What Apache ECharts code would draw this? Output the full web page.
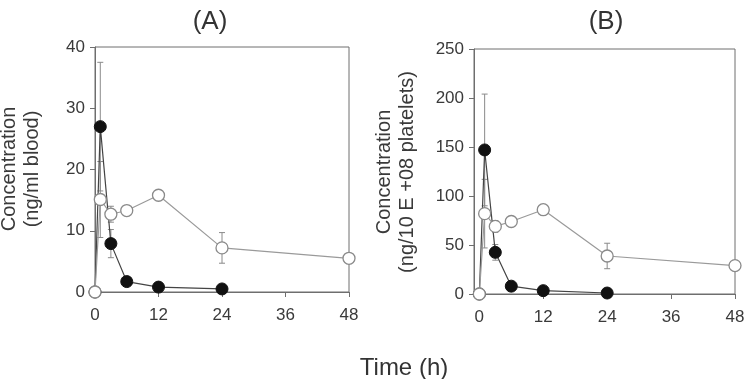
<!DOCTYPE html>
<html>
<head>
<meta charset="utf-8">
<script src="https://cdn.jsdelivr.net/npm/echarts@6/dist/echarts.min.js"></script>
<style>html,body{margin:0;padding:0;background:#fff}#c{width:751px;height:379px}</style>
</head>
<body>
<div id="c"></div>
<script>
// ---- data ----
var xTicks = [0, 12, 24, 36, 48];
var timeFilled = [0, 1, 3, 6, 12, 24];
var timeOpen = [0, 1, 3, 6, 12, 24, 48];
// Panel A: ng/ml blood
var filledA = [0, 27.0, 7.9, 1.7, 0.8, 0.5];
var filledA_sd = [0, 10.5, 2.3, 0, 0, 0];
var openA = [0, 15.1, 12.7, 13.3, 15.8, 7.2, 5.5];
var openA_sd = [0, 6.2, 1.3, 0, 0, 2.5, 0];
// Panel B: ng/10E+08 platelets
var filledB = [0, 147, 42.5, 8, 3.4, 1];
var filledB_sd = [0, 57, 8, 0, 0, 0];
var openB = [0, 82, 69, 74, 86, 38.8, 29];
var openB_sd = [0, 35, 6, 0, 0, 13, 0];

var FONT = 'Liberation Sans, Arial, sans-serif';
var AXIS = '#6e6e6e';

function pts(t, v) { return t.map(function (x, i) { return [x, v[i]]; }); }
function errPts(t, v, s) {
  var out = [];
  t.forEach(function (x, i) { if (s[i] > 0) out.push([x, v[i] - s[i], v[i] + s[i]]); });
  return out;
}
function errSeries(idx, data) {
  return {
    type: 'custom', xAxisIndex: idx, yAxisIndex: idx, z: 1, silent: true,
    data: data,
    renderItem: function (params, api) {
      var x = api.value(0), lo = api.value(1), hi = api.value(2);
      var p1 = api.coord([x, hi]), p2 = api.coord([x, lo]);
      var w = 3;
      var st = { stroke: '#8a8a8a', lineWidth: 1 };
      return { type: 'group', children: [
        { type: 'line', shape: { x1: p1[0], y1: p1[1], x2: p2[0], y2: p2[1] }, style: st },
        { type: 'line', shape: { x1: p1[0] - w, y1: p1[1], x2: p1[0] + w, y2: p1[1] }, style: st },
        { type: 'line', shape: { x1: p2[0] - w, y1: p2[1], x2: p2[0] + w, y2: p2[1] }, style: st }
      ]};
    }
  };
}
function xAx(idx, min) {
  return {
    gridIndex: idx, type: 'value', min: min, max: 48,
    axisLine: { show: true, onZero: false, lineStyle: { color: AXIS, width: 1 } },
    axisTick: { show: true, length: 5, customValues: xTicks, lineStyle: { color: AXIS } },
    axisLabel: { customValues: xTicks, color: '#3a3a3a', fontSize: 17, fontFamily: FONT, margin: 15 },
    splitLine: { show: false }
  };
}
function yAx(idx, max, interval) {
  return {
    gridIndex: idx, type: 'value', min: 0, max: max, interval: interval,
    axisLine: { show: true, onZero: false, lineStyle: { color: AXIS, width: 1 } },
    axisTick: { show: true, length: 5, lineStyle: { color: AXIS } },
    axisLabel: { color: '#3a3a3a', fontSize: 17, fontFamily: FONT, margin: 10 },
    splitLine: { show: false }
  };
}
function filledSeries(idx, data) {
  return { type: 'line', xAxisIndex: idx, yAxisIndex: idx, data: data, z: 3,
    symbol: 'circle', symbolSize: 12, lineStyle: { color: '#444', width: 1.2 },
    itemStyle: { color: '#111', borderColor: '#111', borderWidth: 1 }, animation: false };
}
function openSeries(idx, data) {
  return { type: 'line', xAxisIndex: idx, yAxisIndex: idx, data: data, z: 4,
    symbol: 'circle', symbolSize: 12, lineStyle: { color: '#9a9a9a', width: 1.2 },
    itemStyle: { color: '#fff', borderColor: '#8a8a8a', borderWidth: 1.3 }, animation: false };
}

var chart = echarts.init(document.getElementById('c'), null, { renderer: 'canvas' });
chart.setOption({
  animation: false,
  grid: [
    { left: 95, top: 47, width: 254, height: 245, show: true, borderColor: AXIS, borderWidth: 1, backgroundColor: 'transparent' },
    { left: 474, top: 49, width: 261, height: 245, show: true, borderColor: AXIS, borderWidth: 1, backgroundColor: 'transparent' }
  ],
  xAxis: [xAx(0, 0), xAx(1, -1)],
  yAxis: [yAx(0, 40, 10), yAx(1, 250, 50)],
  series: [
    errSeries(0, errPts(timeFilled, filledA, filledA_sd)),
    errSeries(0, errPts(timeOpen, openA, openA_sd)),
    filledSeries(0, pts(timeFilled, filledA)),
    openSeries(0, pts(timeOpen, openA)),
    errSeries(1, errPts(timeFilled, filledB, filledB_sd)),
    errSeries(1, errPts(timeOpen, openB, openB_sd)),
    filledSeries(1, pts(timeFilled, filledB)),
    openSeries(1, pts(timeOpen, openB))
  ],
  graphic: [
    { type: 'text', x: 210, y: 22, style: { text: '(A)', font: '26px ' + FONT, fill: '#333', align: 'center', verticalAlign: 'middle' } },
    { type: 'text', x: 606, y: 22, style: { text: '(B)', font: '26px ' + FONT, fill: '#333', align: 'center', verticalAlign: 'middle' } },
    { type: 'text', x: 21, y: 169, rotation: Math.PI / 2,
      style: { text: 'Concentration\n(ng/ml blood)', font: '20px ' + FONT, lineHeight: 23, fill: '#3a3a3a', align: 'center', verticalAlign: 'middle' } },
    { type: 'text', x: 396, y: 172, rotation: Math.PI / 2,
      style: { text: 'Concentration\n(ng/10 E +08 platelets)', font: '20px ' + FONT, lineHeight: 23, fill: '#3a3a3a', align: 'center', verticalAlign: 'middle' } },
    { type: 'text', x: 404, y: 368, style: { text: 'Time (h)', font: '24px ' + FONT, fill: '#333', align: 'center', verticalAlign: 'middle' } }
  ]
});
</script>
</body>
</html>
